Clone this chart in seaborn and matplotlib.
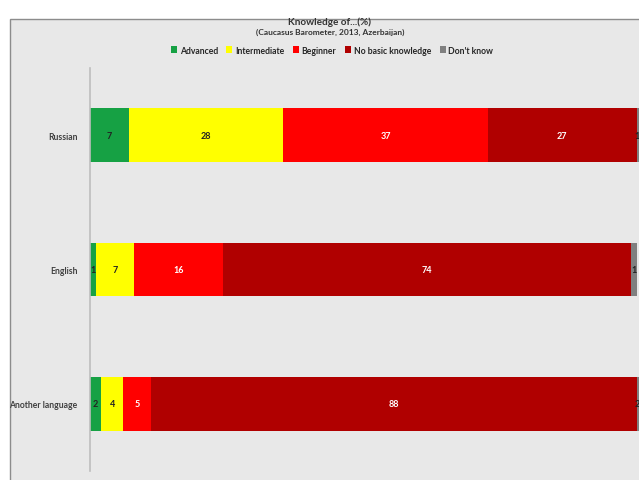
import matplotlib
matplotlib.use("Agg")
import matplotlib.pyplot as plt
from matplotlib.patches import Rectangle
import numpy as np
import pandas as pd
import seaborn as sns

# Survey shares (%) by language
languages = ["Russian", "English", "Another language"]
levels = ["Advanced", "Intermediate", "Beginner", "No basic knowledge", "Don't know"]
advanced = [7, 1, 2]
intermediate = [28, 7, 4]
beginner = [37, 16, 5]
no_basic = [27, 74, 88]
dont_know = [1, 1, 2]

colors = ["#16a144", "#ffff00", "#ff0000", "#b00000", "#808080"]
label_colors = ["#222222", "#222222", "#ffffff", "#ffffff", "#222222"]

sns.set_theme(style="white")
plt.rcParams["font.family"] = ["Lato", "DejaVu Sans"]

fig = plt.figure(figsize=(6.39, 4.81), dpi=100)
fig.patch.set_facecolor("white")

# Chart panel background with its frame
panel = Rectangle((10 / 639, -0.05), 1.05, 1 - 20 / 481 + 0.05,
                  transform=fig.transFigure, facecolor="#e8e8e8",
                  edgecolor="#8c8c8c", linewidth=1.0, zorder=-5)
fig.add_artist(panel)

ax = fig.add_axes([90 / 639, 9 / 481, 549 / 639, 403 / 481])
ax.set_facecolor("none")
ax.set_zorder(2)

series = [advanced, intermediate, beginner, no_basic, dont_know]
values = np.array(series, dtype=float)
cum = np.cumsum(values, axis=0)

df = pd.DataFrame({"language": languages})
xmax = 99.4

# Stacked bars: draw cumulative totals from the outermost segment inward
for i in range(len(levels) - 1, -1, -1):
    df["value"] = cum[i]
    sns.barplot(data=df, x="value", y="language", orient="h", color=colors[i],
                saturation=1, width=0.4, ax=ax, label=levels[i],
                edgecolor="none", linewidth=0)
if ax.get_legend() is not None:
    ax.get_legend().remove()

# Segment value labels
for i in range(len(levels)):
    for j in range(len(languages)):
        left = cum[i, j] - values[i, j]
        right = min(cum[i, j], xmax)
        xc = (left + right) / 2
        if i == len(levels) - 1:
            xc = min(xc, xmax - 0.4)
        ax.text(xc, j, f"{int(values[i, j])}", ha="center", va="center",
                fontsize=6.5, fontweight="bold", color=label_colors[i])

ax.set_xlim(0, xmax)
ax.set_ylim(2.5, -0.5)
ax.set_xlabel("")
ax.set_ylabel("")
ax.set_xticks([])
for s in ["top", "right", "bottom"]:
    ax.spines[s].set_visible(False)
ax.spines["left"].set_color("#bdbdbd")
ax.spines["left"].set_linewidth(1.2)
ax.set_yticks(range(len(languages)))
ax.set_yticklabels(languages, fontsize=6.2, fontweight="bold", color="#404040")
ax.tick_params(axis="y", which="major", length=0, pad=9)
ax.set_yticks([0.5, 1.5, 2.5], minor=True)
ax.tick_params(axis="y", which="minor", length=4, color="#bdbdbd", width=1.2)

# Title, subtitle and legend
fig.text(330 / 639, 1 - 22 / 481, "Knowledge of...(%)", ha="center", va="center",
         fontsize=7.2, fontweight="bold", color="#333333")
fig.text(330 / 639, 1 - 32 / 481, "(Caucasus Barometer, 2013, Azerbaijan)",
         ha="center", va="center", fontsize=6, fontweight="bold", color="#333333")

handles = [Rectangle((0, 0), 1, 1, facecolor=c, edgecolor="none") for c in colors]
fig.legend(handles, levels, loc="center", bbox_to_anchor=(332 / 639, 1 - 51 / 481),
           ncol=5, frameon=False, handlelength=0.7, handleheight=0.7,
           handletextpad=0.3, columnspacing=1.0,
           prop={"weight": "bold", "size": 6.2})

fig.savefig("out.png", dpi=100, facecolor=fig.get_facecolor())
